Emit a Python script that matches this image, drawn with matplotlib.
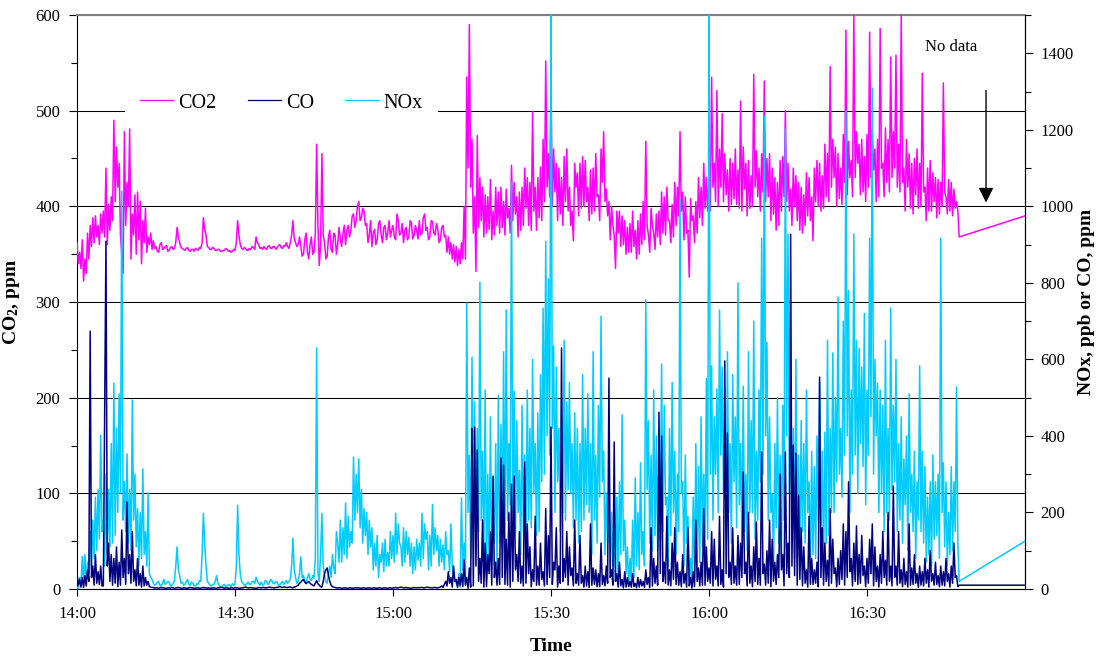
import numpy as np
import matplotlib
matplotlib.use("Agg")
import matplotlib.pyplot as plt
from matplotlib.ticker import MultipleLocator

plt.rcParams['font.family'] = 'Liberation Serif'
plt.rcParams['mathtext.fontset'] = 'custom'
plt.rcParams['mathtext.rm'] = 'Liberation Serif'
plt.rcParams['mathtext.bf'] = 'Liberation Serif:bold'

# logger readings every 15 s from 14:00, minutes since 14:00
step_min = 0.25
end_min = 180  # last logged point at 17:00

# CO2, ppm (one row = 5 min)
co2 = [
    362, 340, 352, 335, 365, 322, 345, 330, 372, 345, 380, 358, 388, 362, 390, 368, 380, 360, 392, 372,
    395, 368, 440, 360, 402, 375, 410, 385, 490, 405, 462, 420, 445, 370, 350, 330, 478, 380, 425, 400,
    481, 345, 392, 370, 412, 350, 415, 365, 405, 340, 385, 362, 398, 352, 368, 360, 372, 355, 364, 356,
    358, 353, 352, 360, 362, 355, 356, 358, 359, 353, 354, 357, 358, 355, 356, 362, 378, 368, 362, 357,
    356, 355, 354, 356, 357, 354, 353, 355, 355, 353, 356, 355, 354, 357, 356, 362, 388, 376, 370, 358,
    357, 355, 355, 357, 356, 354, 354, 355, 355, 353, 353, 354, 354, 356, 355, 353, 354, 352, 353, 355,
    354, 362, 385, 370, 360, 356, 355, 357, 356, 354, 354, 356, 355, 358, 357, 355, 368, 362, 360, 356,
    357, 355, 358, 356, 355, 358, 359, 356, 356, 358, 358, 355, 357, 359, 360, 357, 356, 359, 358, 362,
    358, 356, 362, 370, 385, 366, 362, 358, 360, 368, 358, 348, 350, 365, 372, 352, 345, 360, 368, 350,
    352, 372, 465, 380, 338, 360, 455, 370, 362, 345, 348, 368, 375, 355, 352, 372, 370, 350, 360, 378,
    366, 358, 372, 380, 360, 375, 380, 368, 375, 390, 392, 378, 385, 400, 405, 385, 388, 398, 395, 380,
    382, 362, 370, 385, 358, 372, 376, 360, 365, 382, 385, 370, 362, 378, 380, 365, 372, 385, 368, 375,
    380, 368, 365, 392, 385, 370, 372, 382, 362, 375, 378, 365, 368, 385, 382, 366, 370, 380, 375, 366,
    385, 370, 372, 388, 392, 375, 378, 365, 368, 385, 384, 372, 370, 382, 376, 362, 365, 378, 380, 368,
    370, 352, 368, 350, 362, 345, 360, 342, 358, 338, 355, 340, 362, 345, 400, 345, 535, 440, 590, 420,
    470, 372, 410, 332, 474, 378, 430, 385, 420, 368, 412, 372, 410, 376, 428, 365, 395, 370, 420, 380,
    415, 372, 420, 378, 405, 370, 418, 388, 398, 372, 443, 385, 425, 392, 410, 368, 415, 375, 420, 380,
    440, 398, 430, 380, 425, 375, 499, 395, 420, 375, 430, 388, 441, 385, 470, 405, 552, 420, 455, 410,
    527, 400, 460, 415, 445, 385, 440, 392, 430, 380, 452, 405, 460, 395, 420, 380, 395, 364, 445, 420,
    435, 390, 445, 398, 452, 400, 448, 405, 420, 385, 438, 392, 440, 395, 455, 410, 412, 385, 460, 425,
    478, 405, 418, 390, 405, 365, 400, 380, 370, 335, 395, 372, 395, 358, 390, 360, 385, 350, 378, 352,
    382, 352, 395, 358, 375, 345, 385, 350, 392, 360, 405, 365, 468, 380, 370, 352, 398, 380, 372, 355,
    392, 368, 395, 360, 415, 372, 410, 370, 420, 385, 385, 362, 402, 368, 425, 380, 420, 390, 478, 395,
    415, 365, 410, 372, 375, 326, 408, 385, 390, 362, 405, 372, 430, 388, 420, 380, 445, 398, 430, 395,
    430, 395, 535, 420, 445, 405, 521, 400, 460, 420, 497, 405, 455, 412, 438, 395, 450, 402, 445, 408,
    460, 402, 438, 398, 510, 395, 462, 418, 445, 390, 448, 398, 432, 400, 538, 420, 458, 410, 440, 395,
    455, 415, 531, 405, 450, 410, 455, 385, 440, 392, 430, 375, 425, 380, 448, 395, 452, 410, 500, 405,
    445, 395, 418, 380, 440, 400, 432, 385, 425, 375, 420, 372, 412, 380, 435, 390, 430, 385, 410, 364,
    440, 405, 448, 400, 445, 395, 432, 398, 465, 410, 455, 405, 546, 420, 470, 430, 462, 400, 455, 408,
    440, 402, 475, 425, 584, 412, 468, 430, 448, 410, 600, 430, 478, 445, 465, 412, 470, 415, 452, 405,
    475, 420, 582, 430, 480, 438, 460, 405, 470, 410, 586, 440, 445, 410, 482, 425, 470, 415, 556, 430,
    478, 440, 558, 420, 465, 415, 600, 425, 440, 395, 470, 420, 455, 398, 445, 392, 450, 412, 460, 398,
    445, 400, 539, 415, 420, 385, 440, 395, 448, 395, 435, 405, 430, 388, 428, 392, 425, 400, 529, 415,
    410, 392, 428, 395, 425, 390, 418, 398, 405, 395, 368,
]
co2_end = 390

# NOx, ppb
nox = [
    5, 0, 30, 10, 85, 15, 90, 20, 70, 40, 150, 60, 180, 80, 240, 100, 260, 130, 402, 150,
    180, 60, 300, 90, 260, 110, 380, 120, 538, 140, 420, 200, 510, 250, 1040, 180, 280, 150, 353, 120,
    260, 100, 494, 180, 300, 110, 210, 60, 200, 80, 314, 90, 150, 60, 251, 40, 30, 25, 15, 10,
    12, 18, 20, 10, 8, 15, 25, 12, 15, 20, 18, 8, 10, 14, 22, 60, 110, 50, 35, 15,
    18, 10, 12, 20, 25, 12, 10, 18, 15, 8, 8, 14, 12, 22, 20, 90, 198, 120, 60, 20,
    15, 10, 8, 12, 12, 20, 35, 15, 10, 5, 6, 10, 12, 6, 8, 12, 10, 6, 14, 10,
    12, 60, 219, 90, 40, 20, 15, 10, 10, 15, 18, 12, 12, 20, 20, 14, 31, 20, 15, 10,
    18, 10, 12, 22, 20, 12, 15, 25, 22, 14, 14, 20, 18, 10, 10, 15, 20, 12, 16, 22,
    15, 20, 25, 60, 133, 50, 30, 15, 20, 40, 84, 30, 35, 20, 18, 30, 40, 25, 22, 35,
    28, 80, 630, 40, 20, 90, 198, 60, 35, 20, 15, 40, 60, 30, 90, 55, 40, 150, 120, 70,
    180, 70, 160, 90, 225, 80, 190, 110, 150, 120, 345, 180, 300, 200, 340, 160, 260, 120, 210, 140,
    200, 90, 180, 110, 160, 50, 120, 60, 140, 30, 90, 70, 120, 45, 130, 60, 95, 60, 150, 80,
    140, 70, 198, 90, 170, 120, 110, 60, 160, 70, 150, 90, 135, 60, 120, 40, 110, 50, 130, 75,
    120, 60, 198, 80, 170, 130, 150, 50, 140, 60, 221, 90, 160, 100, 140, 60, 130, 70, 115, 50,
    150, 90, 100, 45, 170, 60, 30, 20, 15, 10, 40, 5, 238, 50, 120, 15, 747, 200, 350, 80,
    606, 200, 489, 90, 420, 150, 802, 180, 360, 90, 520, 40, 300, 60, 450, 70, 290, 120, 380, 60,
    505, 120, 430, 140, 620, 80, 729, 180, 380, 220, 1063, 200, 517, 150, 440, 200, 310, 90, 480, 150,
    350, 120, 520, 180, 420, 160, 600, 250, 380, 140, 460, 150, 560, 280, 734, 300, 909, 400, 810, 350,
    1550, 420, 635, 200, 580, 280, 420, 150, 500, 200, 650, 180, 489, 260, 540, 250, 380, 160, 460, 180,
    420, 120, 380, 150, 560, 180, 420, 220, 510, 200, 380, 90, 620, 180, 350, 120, 480, 240, 713, 280,
    360, 90, 250, 120, 280, 40, 200, 60, 150, 20, 240, 30, 280, 90, 455, 100, 180, 40, 110, 10,
    80, 15, 180, 30, 290, 60, 200, 50, 330, 90, 150, 60, 755, 260, 440, 120, 350, 100, 520, 140,
    400, 100, 350, 180, 588, 150, 480, 220, 240, 60, 420, 140, 540, 200, 360, 90, 300, 150, 1017, 250,
    280, 60, 350, 120, 190, 20, 80, 0, 240, 30, 380, 60, 320, 70, 450, 110, 300, 90, 550, 130,
    1550, 300, 583, 180, 450, 300, 523, 200, 729, 350, 580, 250, 420, 150, 620, 200, 380, 120, 560, 280,
    450, 160, 800, 220, 380, 120, 530, 150, 300, 100, 620, 200, 440, 200, 700, 130, 360, 180, 520, 280,
    917, 300, 1236, 400, 645, 180, 450, 200, 250, 60, 380, 160, 500, 120, 350, 90, 480, 180, 1202, 400,
    927, 250, 480, 200, 420, 80, 600, 110, 350, 60, 440, 150, 380, 120, 520, 200, 280, 40, 360, 90,
    320, 80, 400, 180, 540, 150, 360, 60, 410, 120, 650, 140, 420, 200, 617, 200, 500, 280, 763, 300,
    420, 240, 700, 350, 1249, 400, 780, 200, 520, 300, 928, 350, 650, 250, 629, 380, 580, 320, 720, 220,
    520, 350, 917, 450, 1309, 300, 600, 400, 538, 200, 520, 250, 480, 150, 650, 200, 420, 180, 734, 260,
    480, 280, 600, 150, 380, 180, 450, 120, 340, 220, 400, 100, 510, 200, 300, 150, 360, 80, 280, 180,
    583, 150, 360, 120, 320, 70, 240, 90, 280, 60, 350, 130, 280, 140, 300, 80, 917, 200, 330, 110,
    280, 60, 200, 90, 320, 100, 280, 150, 528, 120, 20,
]
nox_end = 125

# CO, ppm
co = [
    40, 10, 25, 5, 30, 4, 35, 8, 50, 20, 674, 30, 60, 10, 90, 15, 45, 12, 60, 8,
    8, 468, 909, 60, 120, 20, 90, 10, 80, 15, 110, 6, 70, 10, 154, 30, 80, 12, 227, 40,
    90, 15, 150, 20, 50, 8, 80, 10, 40, 5, 60, 8, 30, 10, 20, 6, 5, 4, 4, 3,
    3, 3, 2, 3, 4, 3, 3, 2, 2, 3, 3, 2, 4, 3, 2, 3, 3, 4, 3, 2,
    2, 3, 3, 2, 2, 3, 4, 3, 3, 2, 2, 3, 3, 2, 2, 3, 4, 3, 3, 2,
    3, 2, 2, 3, 3, 2, 2, 3, 3, 4, 4, 3, 2, 3, 3, 2, 2, 3, 3, 2,
    4, 3, 3, 2, 2, 3, 3, 4, 5, 4, 3, 3, 4, 3, 3, 2, 2, 3, 4, 3,
    3, 4, 4, 3, 3, 4, 5, 4, 4, 3, 3, 4, 4, 5, 6, 5, 4, 5, 5, 4,
    4, 5, 5, 4, 3, 5, 6, 8, 10, 15, 18, 22, 25, 18, 14, 17, 20, 15, 12, 10,
    8, 15, 22, 14, 10, 6, 5, 20, 40, 50, 55, 35, 20, 10, 6, 5, 4, 3, 3, 3,
    3, 2, 2, 3, 3, 2, 2, 3, 3, 2, 2, 3, 3, 3, 3, 2, 2, 3, 3, 2,
    2, 3, 3, 2, 2, 3, 3, 2, 2, 3, 3, 2, 2, 3, 3, 2, 2, 3, 3, 2,
    3, 3, 4, 3, 3, 4, 5, 4, 3, 3, 4, 3, 3, 2, 2, 3, 4, 3, 3, 4,
    3, 4, 4, 3, 3, 4, 5, 4, 4, 3, 3, 4, 4, 3, 3, 4, 5, 8, 4, 12,
    20, 8, 45, 15, 30, 5, 60, 20, 25, 4, 30, 10, 40, 6, 76, 10, 30, 2, 55, 5,
    420, 8, 423, 60, 363, 20, 80, 15, 180, 5, 120, 6, 90, 40, 149, 10, 295, 30, 70, 10,
    80, 12, 342, 30, 324, 12, 130, 10, 200, 5, 274, 20, 295, 50, 90, 20, 150, 15, 60, 8,
    332, 15, 170, 40, 110, 6, 50, 20, 190, 10, 60, 10, 120, 25, 45, 8, 210, 12, 140, 30,
    423, 12, 70, 50, 160, 5, 60, 15, 630, 20, 80, 30, 150, 10, 110, 35, 55, 8, 180, 15,
    40, 10, 140, 15, 35, 5, 60, 8, 45, 4, 170, 10, 55, 12, 50, 6, 40, 6, 120, 12,
    35, 8, 60, 15, 551, 30, 50, 10, 384, 20, 40, 5, 70, 8, 25, 3, 45, 5, 30, 6,
    20, 5, 40, 6, 15, 3, 30, 5, 25, 8, 20, 4, 50, 12, 30, 4, 160, 8, 80, 15,
    60, 10, 462, 40, 400, 20, 70, 15, 190, 10, 50, 8, 120, 25, 160, 12, 70, 10, 45, 6,
    90, 15, 40, 5, 160, 8, 30, 3, 45, 6, 180, 20, 55, 8, 70, 10, 210, 10, 110, 20,
    55, 15, 150, 8, 130, 25, 60, 8, 190, 12, 50, 5, 596, 40, 408, 30, 70, 12, 160, 15,
    60, 10, 140, 12, 120, 30, 306, 40, 70, 8, 200, 15, 60, 6, 110, 20, 175, 12, 80, 10,
    358, 40, 65, 10, 100, 15, 180, 6, 130, 20, 70, 12, 90, 30, 300, 50, 90, 8, 358, 40,
    120, 30, 927, 60, 376, 35, 355, 10, 245, 25, 160, 8, 110, 15, 50, 5, 190, 12, 80, 12,
    50, 15, 70, 6, 554, 30, 160, 10, 120, 20, 75, 8, 210, 15, 130, 40, 55, 6, 80, 12,
    100, 25, 170, 10, 150, 30, 280, 45, 80, 8, 120, 20, 165, 12, 90, 15, 140, 35, 60, 6,
    80, 15, 130, 40, 170, 8, 110, 20, 60, 5, 90, 15, 150, 30, 75, 10, 200, 20, 60, 8,
    269, 30, 60, 10, 150, 15, 50, 6, 80, 12, 45, 5, 170, 10, 55, 12, 90, 15, 40, 4,
    60, 10, 45, 8, 80, 15, 50, 5, 100, 20, 40, 10, 70, 12, 35, 6, 60, 10, 45, 8,
    80, 20, 40, 5, 60, 15, 120, 30, 35, 6, 10,
]
co_end = 10

xtick_min = [0, 30, 60, 90, 120, 150]
xtick_labels = ["14:00", "14:30", "15:00", "15:30", "16:00", "16:30"]

t = np.append(np.arange(len(co2)) * step_min, end_min)
co2_all = np.append(co2, co2_end)
nox_all = np.append(nox, nox_end)
co_all = np.append(co, co_end)

W, H = 1103, 662
fig = plt.figure(figsize=(W / 100, H / 100), dpi=100)
ax = fig.add_axes([77 / W, 1 - 589 / H, 948 / W, 574 / H])
ax2 = ax.twinx()

l_co2, = ax.plot(t, co2_all, color='#ff00ff', lw=1.1, zorder=3, label='CO2')
l_nox, = ax2.plot(t, nox_all, color='#00ccff', lw=1.1, zorder=2, label='NOx')
l_co, = ax2.plot(t, co_all, color='#000080', lw=1.1, zorder=3, label='CO')

ax.set_xlim(0, end_min)
ax.set_ylim(0, 600)
ax2.set_ylim(0, 1500)

ax.set_xticks(xtick_min)
ax.set_xticklabels(xtick_labels)
ax.yaxis.set_major_locator(MultipleLocator(100))
ax.yaxis.set_minor_locator(MultipleLocator(50))
ax2.yaxis.set_major_locator(MultipleLocator(200))
ax2.yaxis.set_minor_locator(MultipleLocator(100))

ax.tick_params(axis='x', direction='out', length=5, width=0.8, labelsize=12, pad=7)
ax.tick_params(axis='y', which='major', direction='out', length=6, width=0.8, labelsize=12, pad=6)
ax.tick_params(axis='y', which='minor', direction='out', length=4, width=0.8)
ax2.tick_params(axis='y', which='major', direction='out', length=6, width=0.8, labelsize=12, pad=5)
ax2.tick_params(axis='y', which='minor', direction='out', length=4, width=0.8)

ax.yaxis.grid(True, color='black', lw=0.75)
ax.set_axisbelow(True)

for s in ['left', 'bottom', 'right']:
    ax.spines[s].set_color('black')
    ax.spines[s].set_linewidth(0.8)
ax.spines['top'].set_color('#808080')
ax.spines['top'].set_linewidth(1.5)
for s in ['left', 'bottom', 'top']:
    ax2.spines[s].set_visible(False)
ax2.spines['right'].set_linewidth(0.8)

ax.set_xlabel('Time', fontsize=14, fontweight='bold')
ax.xaxis.set_label_coords(0.5, -0.086)
ax.set_ylabel(r'$\mathbf{CO_2}$, ppm', fontsize=14, fontweight='bold')
ax.yaxis.set_label_coords(-0.058, 0.5)
ax2.set_ylabel('NOx, ppb or CO, ppm', fontsize=14, fontweight='bold')
ax2.yaxis.set_label_coords(1.056, 0.5)

leg = ax.legend([l_co2, l_co, l_nox], ['CO2', 'CO', 'NOx'], loc='center',
                bbox_to_anchor=(0.2157, 0.8467), ncol=3, fontsize=14.5,
                frameon=True, facecolor='white', edgecolor='none', framealpha=1,
                fancybox=False, handlelength=1.65, handletextpad=0.25,
                columnspacing=1.55, borderpad=0.75)
leg.set_zorder(2.5)
for h in leg.get_lines():
    h.set_linewidth(0.9)

ax.text(165.9, 566.5, 'No data', ha='center', va='center', fontsize=12)
ax.annotate('', xy=(172.6, 401), xytext=(172.6, 524),
            arrowprops=dict(arrowstyle='-|>,head_length=0.5,head_width=0.25',
                            color='black', lw=1, mutation_scale=18))

fig.savefig('out.png', dpi=100)
